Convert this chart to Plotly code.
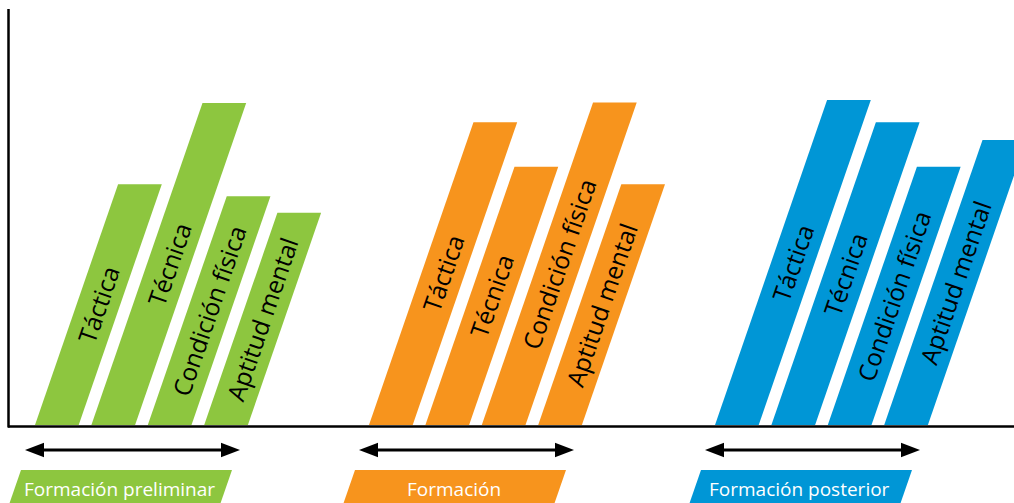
import plotly.graph_objects as go

phases = ["Formación preliminar", "Formación", "Formación posterior"]
aspects = ["Táctica", "Técnica", "Condición física", "Aptitud mental"]
preliminar = [57.9, 77.4, 55.0, 51.0]
formacion = [72.8, 62.1, 77.5, 57.9]
posterior = [78.1, 72.8, 62.1, 68.5]
colors = ["#8dc63f", "#f7941d", "#0096d6"]

# layout constants (x in px, y in value units, 4.16 px per unit)
origins = [35, 369, 715]
pitch = 56.4
width = 43.7
slant = 0.345 * 4.16
font = "Open Sans"

fig = go.Figure()
annos = []

for g, vals in enumerate([preliminar, formacion, posterior]):
    c = colors[g]
    for i, v in enumerate(vals):
        x0 = origins[g] + i * pitch
        fig.add_trace(go.Scatter(
            x=[x0, x0 + width, x0 + width + slant * v, x0 + slant * v, x0],
            y=[0, 0, v, v, 0], fill="toself", fillcolor=c, mode="lines",
            line=dict(width=0, color=c), hoverinfo="skip"))
        annos.append(dict(x=x0 + width / 2 + slant * v / 2, y=v / 2, text=aspects[i],
                          textangle=-71, showarrow=False, xanchor="center", yanchor="middle",
                          font=dict(family=font, size=24.5, color="black")))

    # double arrow under the group
    a0 = origins[g] - 10
    a1 = origins[g] + 205
    ya = -6.0
    hl = 19
    hh = 7.3 / 4.16
    fig.add_trace(go.Scatter(x=[a0 + hl - 1, a1 - hl + 1], y=[ya, ya], mode="lines",
                             line=dict(color="black", width=3), hoverinfo="skip"))
    fig.add_trace(go.Scatter(x=[a0, a0 + hl, a0 + hl, a0], y=[ya, ya + hh, ya - hh, ya],
                             fill="toself", fillcolor="black", mode="lines",
                             line=dict(width=0, color="black"), hoverinfo="skip"))
    fig.add_trace(go.Scatter(x=[a1, a1 - hl, a1 - hl, a1], y=[ya, ya + hh, ya - hh, ya],
                             fill="toself", fillcolor="black", mode="lines",
                             line=dict(width=0, color="black"), hoverinfo="skip"))

    # phase label box
    lt = -10.8
    lb = -21
    lx = origins[g] - 14
    lw = 211
    fig.add_trace(go.Scatter(
        x=[lx, lx + lw, lx + lw + slant * (lb - lt), lx + slant * (lb - lt), lx],
        y=[lt, lt, lb, lb, lt], fill="toself", fillcolor=c, mode="lines",
        line=dict(width=0, color=c), hoverinfo="skip"))
    yl = -15.4
    annos.append(dict(x=lx + lw / 2 + slant * (yl - lt), y=yl, text=phases[g], showarrow=False,
                      xanchor="center", yanchor="middle",
                      font=dict(family=font, size=19, color="white")))

# axes
fig.add_trace(go.Scatter(x=[8, 1014], y=[-0.36, -0.36], mode="lines",
                         line=dict(color="black", width=2.5), hoverinfo="skip"))
fig.add_trace(go.Scatter(x=[8.5, 8.5], y=[-0.6, 100], mode="lines",
                         line=dict(color="black", width=2.5), hoverinfo="skip"))

fig.update_layout(width=1014, height=503, margin=dict(l=0, r=0, t=0, b=0, pad=0),
                  plot_bgcolor="white", paper_bgcolor="white", showlegend=False,
                  annotations=annos,
                  xaxis=dict(range=[0, 1014], visible=False),
                  yaxis=dict(range=[-18.75, 102.16], visible=False))
fig.write_html("out.html", config={"displayModeBar": False},
               post_script="document.body.style.margin='0';document.body.style.overflow='hidden';")
